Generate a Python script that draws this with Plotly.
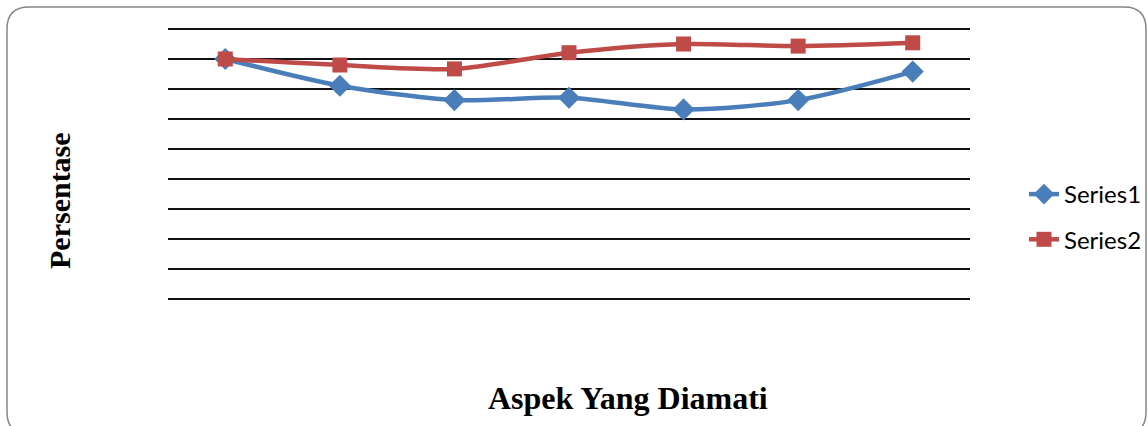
import plotly.graph_objects as go

categories = ["1", "2", "3", "4", "5", "6", "7"]
series1 = [90.0, 81.1, 76.3, 77.1, 73.2, 76.3, 85.8]
series2 = [90.0, 88.0, 86.7, 92.1, 95.0, 94.3, 95.4]

W, H = 1148, 426
# plot area: value 101 at y=26, value 9 at y=302 (3 px per unit)
L, R, T, B = 168, 178, 26, 124
PW, PH = W - L - R, H - T - B

def px(x):
    return (x - L) / PW

def py(y):
    return (H - B - y) / PH

fig = go.Figure()
fig.add_trace(go.Scatter(
    x=categories, y=series1, name="Series1", mode="lines+markers",
    line=dict(color="#4A7EBB", width=4.5, shape="spline", smoothing=0.8),
    marker=dict(symbol="diamond", size=17, color="#4A7EBB"),
    legendgroup="a"))
fig.add_trace(go.Scatter(
    x=categories, y=series2, name="Series2", mode="lines+markers",
    line=dict(color="#BE4B48", width=4.5, shape="spline", smoothing=0.8),
    marker=dict(symbol="square", size=15, color="#BE4B48"),
    legendgroup="b"))

# rounded border
x0, x1, y0, y1, r = 7, 1146, 7, 434, 22
path = (f"M {px(x0)},{py(y0 + r)} Q {px(x0)},{py(y0)} {px(x0 + r)},{py(y0)} "
        f"L {px(x1 - r)},{py(y0)} Q {px(x1)},{py(y0)} {px(x1)},{py(y0 + r)} "
        f"L {px(x1)},{py(y1 - r)} Q {px(x1)},{py(y1)} {px(x1 - r)},{py(y1)} "
        f"L {px(x0 + r)},{py(y1)} Q {px(x0)},{py(y1)} {px(x0)},{py(y1 - r)} Z")
fig.add_shape(type="path", path=path, xref="paper", yref="paper",
              line=dict(color="#868686", width=1.5), layer="below")

fig.add_annotation(text="<b>Persentase</b>", x=px(60), y=py(201), xref="paper", yref="paper",
                   xanchor="center", yanchor="middle",
                   textangle=-90, showarrow=False,
                   font=dict(family="Liberation Serif", size=30, color="black"))
fig.add_annotation(text="<b>Aspek Yang Diamati</b>", x=px(628), y=py(398), xref="paper", yref="paper",
                   xanchor="center", yanchor="middle",
                   showarrow=False,
                   font=dict(family="Liberation Serif", size=32, color="black"))

fig.update_layout(
    width=W, height=H,
    margin=dict(l=L, r=R, t=T, b=B, autoexpand=False),
    paper_bgcolor="white", plot_bgcolor="white",
    showlegend=True,
    legend=dict(x=px(1147), y=py(172), xanchor="right", yanchor="top",
                font=dict(family="Lato", size=24, color="black"),
                tracegroupgap=11, bgcolor="rgba(0,0,0,0)"),
    xaxis=dict(type="category", range=[-0.5, 6.5], showgrid=False, showticklabels=False,
               showline=False, zeroline=False, ticks=""),
    yaxis=dict(range=[9, 101], tickvals=[10, 20, 30, 40, 50, 60, 70, 80, 90, 100],
               showgrid=True, gridcolor="#111111", gridwidth=1.6,
               showticklabels=False, zeroline=False, showline=False, ticks=""),
)

fig.write_html("out.html", config={"displayModeBar": False},
               post_script="document.body.style.margin='0';document.body.style.overflow='hidden';")
